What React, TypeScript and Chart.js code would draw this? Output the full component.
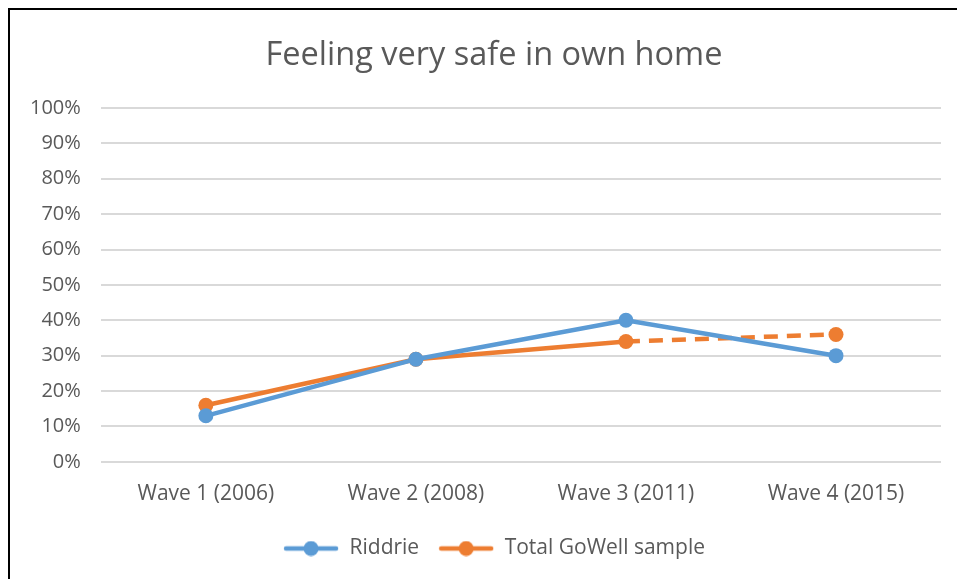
import React, { useEffect, useRef } from "react";
import { Chart, registerables } from "chart.js";
Chart.register(...registerables);

const categories = ["Wave 1 (2006)", "Wave 2 (2008)", "Wave 3 (2011)", "Wave 4 (2015)"];
const riddrie = [13, 29, 40, 30];
const totalGoWell = [16, 29, 34, 36];
const seriesNames = ["Riddrie", "Total GoWell sample"];
const colors = ["#5B9BD5", "#ED7D31"];
const titleText = "Feeling very safe in own home";
const FONT = "'Open Sans', sans-serif";

function legendIcon(color: string) {
  const c = document.createElement("canvas");
  c.width = 56;
  c.height = 16;
  const ctx = c.getContext("2d")!;
  ctx.strokeStyle = color;
  ctx.lineWidth = 4.5;
  ctx.lineCap = "round";
  ctx.beginPath();
  ctx.moveTo(3, 8);
  ctx.lineTo(53, 8);
  ctx.stroke();
  ctx.fillStyle = color;
  ctx.beginPath();
  ctx.arc(28, 8, 7.5, 0, Math.PI * 2);
  ctx.fill();
  return c;
}

export default function App() {
  const ref = useRef<HTMLCanvasElement>(null);
  useEffect(() => {
    document.documentElement.style.overflow = "hidden";
    document.body.style.overflow = "hidden";
    const icons = colors.map(legendIcon);
    const chart = new Chart(ref.current!, {
      type: "line",
      data: {
        labels: categories,
        datasets: [
          {
            label: seriesNames[0],
            data: riddrie,
            borderColor: colors[0],
            backgroundColor: colors[0],
            borderWidth: 4.5,
            pointRadius: 7.5,
            pointHoverRadius: 7.5,
            pointBorderWidth: 0,
          },
          {
            label: seriesNames[1],
            data: totalGoWell,
            borderColor: colors[1],
            backgroundColor: colors[1],
            borderWidth: 4.5,
            pointRadius: 7.5,
            pointHoverRadius: 7.5,
            pointBorderWidth: 0,
            segment: {
              borderDash: (ctx: any) => (ctx.p0DataIndex === 2 ? [14, 9] : undefined),
            },
          },
        ],
      },
      options: {
        animation: false,
        responsive: false,
        layout: { padding: { left: 0, right: 0, top: 14, bottom: 10 } },
        elements: { point: { pointStyle: "circle" } },
        plugins: {
          title: {
            display: true,
            text: titleText,
            color: "#595959",
            font: { family: FONT, size: 32.5, weight: "normal" },
            padding: { top: 12, bottom: 33 },
          },
          legend: {
            position: "bottom",
            labels: {
              usePointStyle: true,
              pointStyleWidth: 56,
              boxHeight: 16,
              generateLabels: (ch: any) =>
                ch.data.datasets.map((d: any, i: number) => ({
                  text: d.label,
                  pointStyle: icons[i],
                  fillStyle: colors[i],
                  strokeStyle: colors[i],
                  lineWidth: 0,
                  datasetIndex: i,
                  fontColor: "#595959",
                })),
              color: "#595959",
              font: { family: FONT, size: 21 },
              padding: 19,
            },
          },
          tooltip: { enabled: false },
        },
        scales: {
          x: {
            offset: true,
            grid: { display: false },
            border: { display: false },
            ticks: { color: "#595959", font: { family: FONT, size: 21 }, padding: 12 },
          },
          y: {
            min: 0,
            max: 100,
            ticks: {
              stepSize: 10,
              color: "#595959",
              font: { family: FONT, size: 20 },
              padding: 20,
              callback: (v: any) => v + "%",
            },
            grid: { color: "#D9D9D9", lineWidth: 2, drawTicks: false },
            border: { display: false },
          },
          yRight: {
            position: "right",
            display: true,
            ticks: { display: false },
            grid: { display: false, drawTicks: false },
            border: { display: false },
            afterFit: (scale: any) => {
              scale.width = 37;
            },
          },
        },
      },
    });
    return () => chart.destroy();
  }, []);
  return (
    <div
      style={{
        position: "fixed",
        left: 8,
        top: 8,
        width: 980,
        height: 580,
        overflow: "hidden",
        borderLeft: "2px solid #000",
        borderTop: "2px solid #000",
        background: "#fff",
      }}
    >
      <canvas ref={ref} width={968} height={569} style={{ display: "block" }} />
    </div>
  );
}
